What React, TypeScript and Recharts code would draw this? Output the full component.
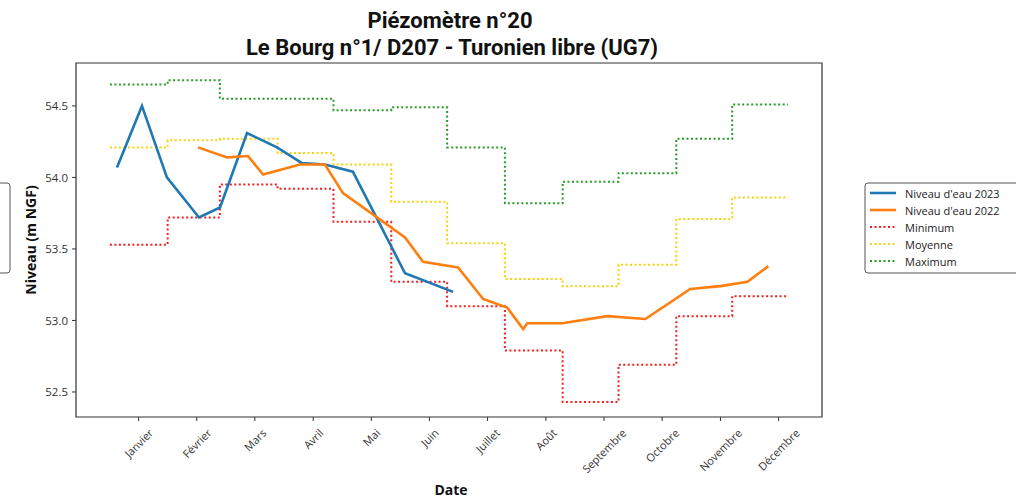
import { LineChart, Line, XAxis, YAxis, ReferenceArea } from "recharts";

// mois affichés en abscisse (positions en jour de l'année)
const MONTHS = [
  "Janvier", "Février", "Mars", "Avril", "Mai", "Juin",
  "Juillet", "Août", "Septembre", "Octobre", "Novembre", "Décembre",
];
const TICK_DAYS = [15.4, 46.6, 77.8, 109.1, 140.3, 171.5, 202.7, 234.0, 265.2, 296.4, 327.7, 358.9];
const MONTH_START = [0, 31, 59, 90, 120, 151, 181, 212, 243, 273, 304, 334];
const YEAR_END = 364;
const Y_TICKS = [52.5, 53.0, 53.5, 54.0, 54.5];

// niveaux relevés (m NGF)
const DAYS_2023 = [3.8, 17.2, 30.6, 47.8, 59.1, 73.6, 89.7, 103.1, 115.4, 130.4, 158.4, 184.2];
const NIVEAU_2023 = [54.07, 54.5, 54.0, 53.72, 53.79, 54.31, 54.21, 54.1, 54.09, 54.04, 53.33, 53.2];

const DAYS_2022 = [
  47.3, 62.9, 74.1, 82.2, 102.0, 115.4, 125.1, 158.4, 168.1, 186.9, 200.3,
  213.2, 221.8, 224.0, 242.8, 267.0, 287.4, 311.5, 327.7, 342.2, 353.4,
];
const NIVEAU_2022 = [
  54.21, 54.14, 54.15, 54.02, 54.09, 54.09, 53.89, 53.58, 53.41, 53.37, 53.15,
  53.09, 52.94, 52.98, 52.98, 53.03, 53.01, 53.22, 53.24, 53.27, 53.38,
];

// statistiques mensuelles
const MINIMUM = [53.53, 53.72, 53.95, 53.92, 53.69, 53.27, 53.1, 52.79, 52.43, 52.69, 53.03, 53.17];
const MOYENNE = [54.21, 54.26, 54.27, 54.17, 54.09, 53.83, 53.54, 53.29, 53.24, 53.39, 53.71, 53.86];
const MAXIMUM = [54.65, 54.68, 54.55, 54.55, 54.47, 54.49, 54.21, 53.82, 53.97, 54.03, 54.27, 54.51];

const C_2023 = "#1f77b4";
const C_2022 = "#ff7f0e";
const C_MIN = "#f02020";
const C_MOY = "#f5d20a";
const C_MAX = "#2a9a2a";

const LEGEND = [
  { name: "Niveau d'eau 2023", color: C_2023, dotted: false },
  { name: "Niveau d'eau 2022", color: C_2022, dotted: false },
  { name: "Minimum", color: C_MIN, dotted: true },
  { name: "Moyenne", color: C_MOY, dotted: true },
  { name: "Maximum", color: C_MAX, dotted: true },
];

const X_DOMAIN = [-18.2, 382.2];
const Y_DOMAIN = [52.325, 54.8];

const toPoints = (days: number[], vals: number[]) => days.map((d, i) => ({ day: d, v: vals[i] }));
// une valeur par mois, palier jusqu'au mois suivant
const toSteps = (vals: number[]) => [
  ...MONTH_START.map((d, i) => ({ day: d, v: vals[i] })),
  { day: YEAR_END, v: vals[vals.length - 1] },
];

let ctx: CanvasRenderingContext2D | null = null;
function textWidth(s: string, font: string) {
  if (!ctx) ctx = document.createElement("canvas").getContext("2d");
  if (!ctx) return s.length * 6;
  ctx.font = font;
  return ctx.measureText(s).width;
}

const FONT = "'Open Sans', 'DejaVu Sans', sans-serif";

function MonthTick(props: any) {
  const { x, y, payload } = props;
  const label = MONTHS[TICK_DAYS.indexOf(payload.value)] ?? "";
  const w = textWidth(label, `11px ${FONT}`);
  const cy = y + 2 + ((w + 13) * 0.7071) / 2;
  return (
    <text
      x={x}
      y={cy}
      textAnchor="middle"
      dominantBaseline="central"
      transform={`rotate(-45 ${x} ${cy})`}
      fontSize={11}
      fontFamily={FONT}
      fill="#333"
    >
      {label}
    </text>
  );
}

export default function App() {
  return (
    <div style={{ position: "absolute", left: 0, top: 0, width: 1016, height: 500, overflow: "hidden", background: "#fff" }}>
      <LineChart width={1016} height={500} margin={{ top: 63, right: 194, bottom: 0, left: 16 }}>
        <XAxis
          type="number"
          dataKey="day"
          domain={X_DOMAIN}
          ticks={TICK_DAYS}
          allowDataOverflow
          height={83}
          axisLine={false}
          tickSize={4}
          tickMargin={3}
          tickLine={{ stroke: "#333" }}
          tick={<MonthTick />}
          interval={0}
        />
        <YAxis
          type="number"
          domain={Y_DOMAIN}
          ticks={Y_TICKS}
          allowDataOverflow
          width={60}
          axisLine={false}
          tickSize={4}
          tickMargin={4}
          tickLine={{ stroke: "#333" }}
          tickFormatter={(v: number) => v.toFixed(1)}
          tick={{ fontSize: 11.5, fontFamily: FONT, fill: "#333" }}
        />
        <ReferenceArea
          x1={X_DOMAIN[0]}
          x2={X_DOMAIN[1]}
          y1={Y_DOMAIN[0]}
          y2={Y_DOMAIN[1]}
          fill="none"
          stroke="#333"
          strokeWidth={1.2}
        />
        <Line data={toSteps(MINIMUM)} dataKey="v" type="stepAfter" stroke={C_MIN} strokeWidth={2} strokeDasharray="2 2.5" dot={false} isAnimationActive={false} />
        <Line data={toSteps(MOYENNE)} dataKey="v" type="stepAfter" stroke={C_MOY} strokeWidth={2} strokeDasharray="2 2.5" dot={false} isAnimationActive={false} />
        <Line data={toSteps(MAXIMUM)} dataKey="v" type="stepAfter" stroke={C_MAX} strokeWidth={2} strokeDasharray="2 2.5" dot={false} isAnimationActive={false} />
        <Line data={toPoints(DAYS_2023, NIVEAU_2023)} dataKey="v" type="linear" stroke={C_2023} strokeWidth={2.6} dot={false} isAnimationActive={false} />
        <Line data={toPoints(DAYS_2022, NIVEAU_2022)} dataKey="v" type="linear" stroke={C_2022} strokeWidth={2.6} dot={false} isAnimationActive={false} />
      </LineChart>

      <svg width={1016} height={500} style={{ position: "absolute", left: 0, top: 0, pointerEvents: "none" }}>
        <text x={450} y={28} textAnchor="middle" fontFamily="Roboto, sans-serif" fontWeight={700} fontSize={22} fill="#111">
          Piézomètre n°20
        </text>
        <text x={452} y={55} textAnchor="middle" fontFamily="Roboto, sans-serif" fontWeight={700} fontSize={22} fill="#111">
          Le Bourg n°1/ D207 - Turonien libre (UG7)
        </text>
        <text
          x={30}
          y={240}
          textAnchor="middle"
          dominantBaseline="central"
          transform="rotate(-90 30 240)"
          fontFamily={FONT}
          fontWeight={700}
          fontSize={14}
          fill="#111"
        >
          Niveau (m NGF)
        </text>
        <text x={451} y={495} textAnchor="middle" fontFamily={FONT} fontWeight={700} fontSize={14} fill="#111">
          Date
        </text>

        {/* cadre de légende coupé à gauche */}
        <rect x={-20} y={183} width={30} height={90} rx={3} fill="none" stroke="#555" strokeWidth={1} />

        <rect x={865} y={183} width={200} height={90} rx={3} fill="#fff" stroke="#555" strokeWidth={1} />
        {LEGEND.map((s, i) => {
          const y = 193 + i * 17;
          return (
            <g key={s.name}>
              <line
                x1={870}
                x2={896}
                y1={y}
                y2={y}
                stroke={s.color}
                strokeWidth={s.dotted ? 2 : 2.6}
                strokeDasharray={s.dotted ? "2 2.5" : undefined}
              />
              <text x={905} y={y} dominantBaseline="central" fontFamily={FONT} fontSize={11} fill="#222">
                {s.name}
              </text>
            </g>
          );
        })}
      </svg>
    </div>
  );
}
